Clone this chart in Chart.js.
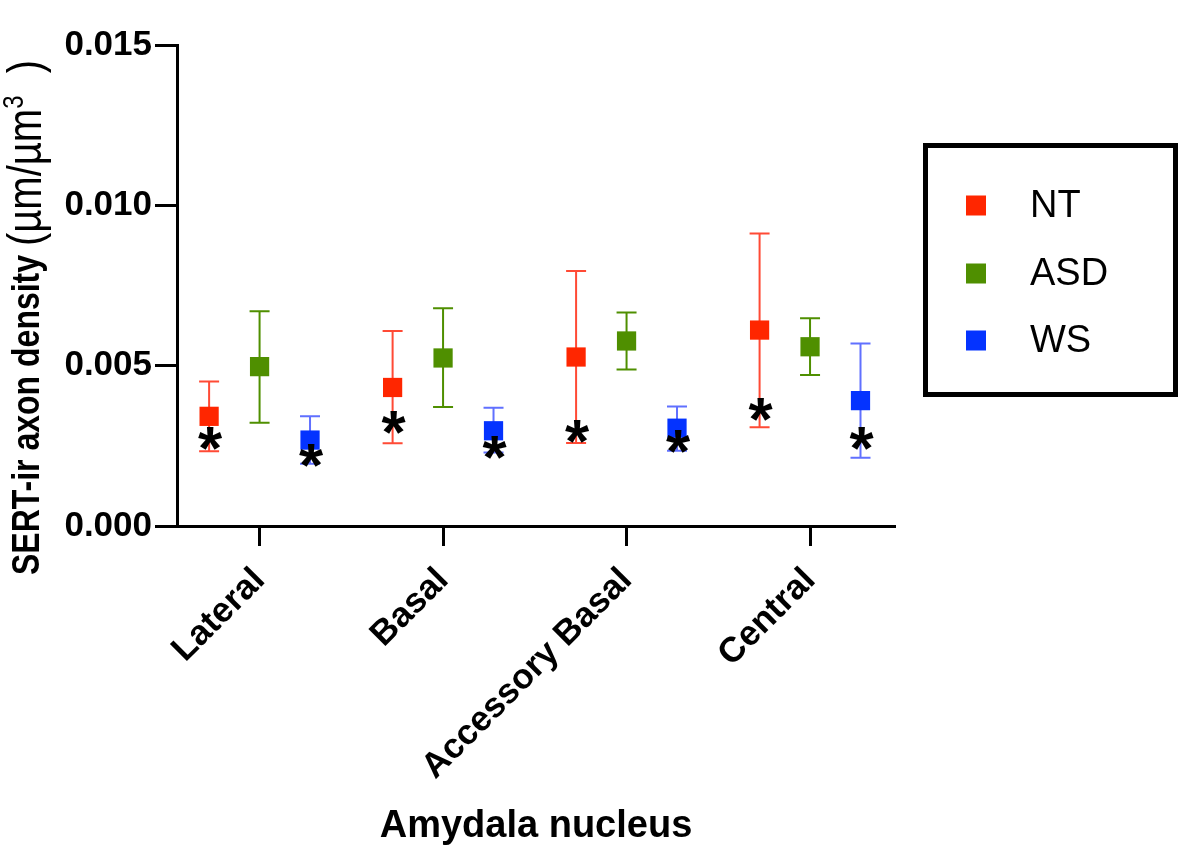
<!DOCTYPE html>
<html>
<head>
<meta charset="utf-8">
<script src="https://cdn.jsdelivr.net/npm/chart.js@4.4.1/dist/chart.umd.min.js"></script>
<style>
  body { margin: 0; background: #fff; }
  #wrap { width: 1181px; height: 857px; }
</style>
</head>
<body>
<div id="wrap"><canvas id="grafico" width="1181" height="857"></canvas></div>
<script>
// datos
var categorias = ['Lateral', 'Basal', 'Accessory Basal', 'Central'];
var grupos = ['NT', 'ASD', 'WS'];

var ntMedia = [0.00342, 0.00432, 0.00527, 0.00611];
var ntSup = [0.00451, 0.00608, 0.00795, 0.00912];
var ntInf = [0.00233, 0.00258, 0.00259, 0.00308];

var asdMedia = [0.00497, 0.00524, 0.00577, 0.00559];
var asdSup = [0.00670, 0.00679, 0.00666, 0.00648];
var asdInf = [0.00322, 0.00371, 0.00488, 0.00471];

var wsMedia = [0.00268, 0.00297, 0.00305, 0.00391];
var wsSup = [0.00342, 0.00369, 0.00373, 0.00569];
var wsInf = [0.00194, 0.00229, 0.00235, 0.00213];

// asteriscos (posición en el eje y)
var ntAsteriscos = [0.00273, 0.00324, 0.00295, 0.00363];
var wsAsteriscos = [0.00219, 0.00245, 0.00263, 0.00274];

var yTicks = [0, 0.005, 0.010, 0.015];

var colores = ['#FF2600', '#4F8F00', '#0433FF'];
var coloresBarra = ['#ff4a35', '#4F8F00', '#6070ff'];
var desplaz = [-0.275, 0, 0.275];

var medias = [ntMedia, asdMedia, wsMedia];
var superiores = [ntSup, asdSup, wsSup];
var inferiores = [ntInf, asdInf, wsInf];
var asteriscos = [ntAsteriscos, null, wsAsteriscos];

function puntos(g) {
    return medias[g].map(function (v, i) {
        return { x: i + 1 + desplaz[g], y: v, sup: superiores[g][i], inf: inferiores[g][i] };
    });
}

var FUENTE = '"Liberation Sans", Arial, Helvetica, sans-serif';

// barras de error
var pluginErrores = {
    id: 'errores',
    beforeDatasetsDraw: function (chart) {
        var ctx = chart.ctx, xs = chart.scales.x, ys = chart.scales.y;
        ctx.save();
        chart.data.datasets.forEach(function (ds, g) {
            ctx.strokeStyle = coloresBarra[g];
            ctx.lineWidth = 2;
            ds.data.forEach(function (p) {
                var x = xs.getPixelForValue(p.x);
                var yt = ys.getPixelForValue(p.sup);
                var yb = ys.getPixelForValue(p.inf);
                ctx.beginPath();
                ctx.moveTo(x, yt); ctx.lineTo(x, yb);
                ctx.moveTo(x - 10, yt); ctx.lineTo(x + 10, yt);
                ctx.moveTo(x - 10, yb); ctx.lineTo(x + 10, yb);
                ctx.stroke();
            });
        });
        ctx.restore();
    },
    afterDatasetsDraw: function (chart) {
        var ctx = chart.ctx, xs = chart.scales.x, ys = chart.scales.y;
        ctx.save();
        ctx.fillStyle = '#000';
        ctx.font = 'bold 62px ' + FUENTE;
        ctx.textAlign = 'center';
        ctx.textBaseline = 'alphabetic';
        var m = ctx.measureText('*');
        var centro = (m.actualBoundingBoxAscent - m.actualBoundingBoxDescent) / 2;
        asteriscos.forEach(function (arr, g) {
            if (!arr) return;
            arr.forEach(function (v, i) {
                var x = xs.getPixelForValue(i + 1 + desplaz[g]);
                var y = ys.getPixelForValue(v);
                ctx.fillText('*', x + 1, y + centro);
            });
        });
        ctx.restore();
    }
};

// título del eje y y leyenda con recuadro
var pluginTextos = {
    id: 'textos',
    afterDraw: function (chart) {
        var ctx = chart.ctx;
        ctx.save();
        // eje y
        ctx.translate(28, 575);
        ctx.rotate(-Math.PI / 2);
        ctx.scale(1, 1.2);
        ctx.fillStyle = '#000';
        ctx.textBaseline = 'middle';
        ctx.textAlign = 'left';
        var partes = [
            { t: 'SERT-ir axon density ', f: 'bold 32px ' + FUENTE, dy: 0 },
            { t: '(\u00b5m/\u00b5m', f: '40px ' + FUENTE, dy: 0 },
            { t: '3', f: '24px ' + FUENTE, dy: -11 },
            { t: '  )', f: '40px ' + FUENTE, dy: 0 }
        ];
        var x = 0;
        partes.forEach(function (p) {
            ctx.font = p.f;
            ctx.fillText(p.t, x, p.dy);
            x += ctx.measureText(p.t).width;
        });
        ctx.restore();

        // leyenda
        ctx.save();
        ctx.strokeStyle = '#000';
        ctx.lineWidth = 5;
        ctx.strokeRect(925.5, 145.5, 250, 249);
        ctx.font = '38px ' + FUENTE;
        ctx.textBaseline = 'middle';
        ctx.textAlign = 'left';
        var ys = [205.5, 273.5, 340.5];
        chart.data.datasets.forEach(function (ds, g) {
            ctx.fillStyle = colores[g];
            ctx.fillRect(966, ys[g] - 10, 20, 20);
            ctx.fillStyle = '#000';
            ctx.fillText(ds.label, 1030, ys[g] + 1);
        });
        ctx.restore();
    }
};

var ctx = document.getElementById('grafico').getContext('2d');
var grafico = new Chart(ctx, {
    type: 'scatter',
    data: {
        datasets: grupos.map(function (nombre, g) {
            return {
                label: nombre,
                data: puntos(g),
                backgroundColor: colores[g],
                borderWidth: 0,
                pointStyle: 'rect',
                pointRadius: 13.6,
                pointHoverRadius: 13.6
            };
        })
    },
    options: {
        responsive: false,
        animation: false,
        events: [],
        layout: { padding: { left: 0, top: 45, right: 286, bottom: 0 } },
        plugins: {
            legend: { display: false },
            tooltip: { enabled: false }
        },
        scales: {
            x: {
                type: 'linear',
                min: 0.55,
                max: 4.463,
                afterBuildTicks: function (s) {
                    s.ticks = categorias.map(function (c, i) { return { value: i + 1 }; });
                },
                afterFit: function (s) { s.height = 857 - 526; },
                ticks: {
                    autoSkip: false,
                    maxRotation: 45,
                    minRotation: 45,
                    color: '#000',
                    padding: 14,
                    font: { family: FUENTE, size: 35, weight: 'bold' },
                    callback: function (v) { return categorias[Math.round(v) - 1]; }
                },
                grid: { drawOnChartArea: false, tickLength: 20, tickWidth: 3, tickColor: '#000' },
                border: { color: '#000', width: 3 },
                title: {
                    display: true,
                    text: 'Amydala nucleus',
                    color: '#000',
                    font: { family: FUENTE, size: 38, weight: 'bold' },
                    padding: { top: 0, bottom: 8 }
                }
            },
            y: {
                min: 0,
                max: 0.015,
                afterBuildTicks: function (s) {
                    s.ticks = yTicks.map(function (v) { return { value: v }; });
                },
                afterFit: function (s) { s.width = 177; },
                ticks: {
                    color: '#000',
                    padding: 3,
                    font: { family: FUENTE, size: 35, weight: 'bold' },
                    callback: function (v) { return v.toFixed(3); }
                },
                grid: { drawOnChartArea: false, tickLength: 22, tickWidth: 3, tickColor: '#000' },
                border: { color: '#000', width: 3 }
            }
        }
    },
    plugins: [pluginErrores, pluginTextos]
});
</script>
</body>
</html>
